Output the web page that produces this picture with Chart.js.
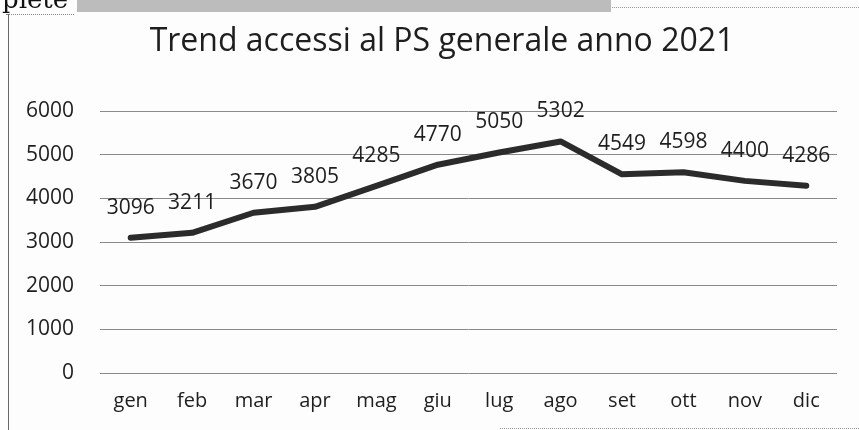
<!DOCTYPE html>
<html>
<head>
<meta charset="utf-8">
<script src="https://cdn.jsdelivr.net/npm/chart.js@4/dist/chart.umd.min.js"></script>
<style>
  html, body { margin: 0; padding: 0; background: #fff; }
  #wrap { position: relative; width: 859px; height: 430px; overflow: hidden; background: #fdfdfd; }
  #chart { position: absolute; left: 0; top: 0; }
  .strip { position: absolute; left: 77px; top: 0; width: 534px; height: 12px; background: #bcbcbc; }
  .word { position: absolute; left: 2px; top: -16px; font: 26px "DejaVu Serif", serif; color: #111; }
  .edge-left { position: absolute; left: 8px; top: 14px; width: 1px; height: 416px; background: #666; }
  .edge-top1 { position: absolute; left: 6px; top: 14px; width: 68px; border-top: 1px dotted #888; }
  .edge-top2 { position: absolute; left: 612px; top: 7px; width: 247px; border-top: 1px dotted #999; }
  .edge-bottom { position: absolute; left: 500px; top: 428px; width: 359px; border-top: 1px dotted #999; }
</style>
</head>
<body>
<div id="wrap">
  <canvas id="chart" width="859" height="430"></canvas>
  <div class="strip"></div>
  <div class="word">piete</div>
  <div class="edge-left"></div>
  <div class="edge-top1"></div>
  <div class="edge-top2"></div>
  <div class="edge-bottom"></div>
</div>
<script>
  "use strict";

  const titleText = "Trend accessi al PS generale anno 2021";
  const months = ["gen", "feb", "mar", "apr", "mag", "giu", "lug", "ago", "set", "ott", "nov", "dic"];
  const accessi = [3096, 3211, 3670, 3805, 4285, 4770, 5050, 5302, 4549, 4598, 4400, 4286];
  const yTicks = [0, 1000, 2000, 3000, 4000, 5000, 6000];

  const font = "'Open Sans', 'DejaVu Sans', sans-serif";
  const ink = "#1e1e1e";

  // title and value labels drawn on the canvas
  const extras = {
    id: "extras",
    afterDatasetsDraw: function (chart) {
      const ctx = chart.ctx;
      const meta = chart.getDatasetMeta(0);
      ctx.save();
      ctx.fillStyle = ink;
      ctx.textAlign = "center";
      ctx.textBaseline = "middle";
      ctx.font = "21px " + font;
      meta.data.forEach(function (pt, i) {
        ctx.fillText(String(accessi[i]), pt.x, pt.y - 30);
      });
      ctx.font = "32px " + font;
      ctx.fillText(titleText, 442, 42);
      ctx.restore();
    }
  };

  new Chart(document.getElementById("chart"), {
    type: "line",
    data: {
      labels: months,
      datasets: [{
        data: accessi,
        borderColor: "#2b2b2b",
        borderWidth: 6,
        pointRadius: 0,
        tension: 0,
        borderJoinStyle: "round",
        borderCapStyle: "round"
      }]
    },
    options: {
      responsive: false,
      animation: false,
      layout: { padding: { top: 111, right: 22, bottom: 1, left: 0 } },
      plugins: {
        legend: { display: false },
        tooltip: { enabled: false },
        title: { display: false }
      },
      scales: {
        x: {
          offset: true,
          grid: { display: false, drawTicks: false },
          border: { display: false },
          ticks: { color: ink, padding: 16, font: { family: font, size: 20 } }
        },
        y: {
          min: 0,
          max: 6000,
          afterBuildTicks: function (scale) {
            scale.ticks = yTicks.map(function (v) { return { value: v }; });
          },
          afterFit: function (scale) { scale.width = 100; },
          grid: { color: "#8a8a8a", lineWidth: 1, drawTicks: false },
          border: { display: false },
          ticks: {
            color: ink,
            padding: 26,
            font: { family: font, size: 21 },
            callback: function (v) { return String(v); }
          }
        }
      }
    },
    plugins: [extras]
  });
</script>
</body>
</html>
